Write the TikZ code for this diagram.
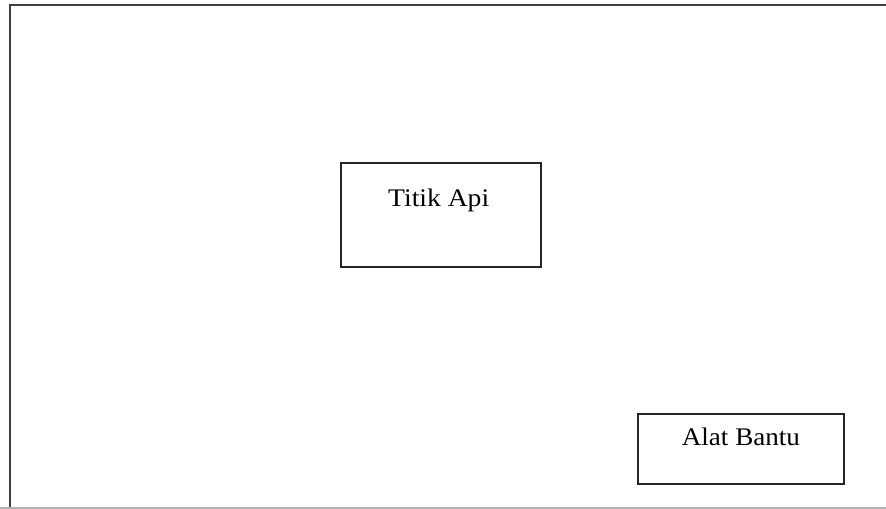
\documentclass[tikz,border=0pt]{standalone}
\usepackage{fontspec}
\setmainfont{Liberation Serif}
\usetikzlibrary{calc}
\begin{document}
\begin{tikzpicture}[x=0.75pt,y=-0.75pt,
  frame/.style={draw=black!75,line width=1.5pt},
  box/.style={draw=black!85,line width=1.4pt,minimum width=#1,inner sep=0pt},
  lbl/.style={anchor=base,inner sep=0pt,font=\fontsize{19pt}{22pt}\selectfont}]
  \useasboundingbox (0,0) rectangle (886,509);
  \fill[white] (0,0) rectangle (886,509);
  % outer frame
  \coordinate (tr) at (886,5);
  \coordinate (tl) at (10,5);
  \coordinate (bl) at (10,509);
  \coordinate (bbl) at (0,508);
  \coordinate (bbr) at (886,508);
  \draw[frame] (tr) -- (tl) -- (bl);
  \draw[black!30,line width=0.8pt] (bbl) -- (bbr);
  % boxes
  \node[box=149.8pt,minimum height=77.8pt] (titik) at (441,215) {};
  \node[lbl] (titikl) at (438.7,206.7) {\scalebox{1.09}[1]{Titik Api}};
  \node[box=154.7pt,minimum height=52.3pt] (alat) at (741,449.2) {};
  \node[lbl] (alatl) at (740.9,446) {\scalebox{1.07}[1]{Alat Bantu}};
\end{tikzpicture}
\end{document}
